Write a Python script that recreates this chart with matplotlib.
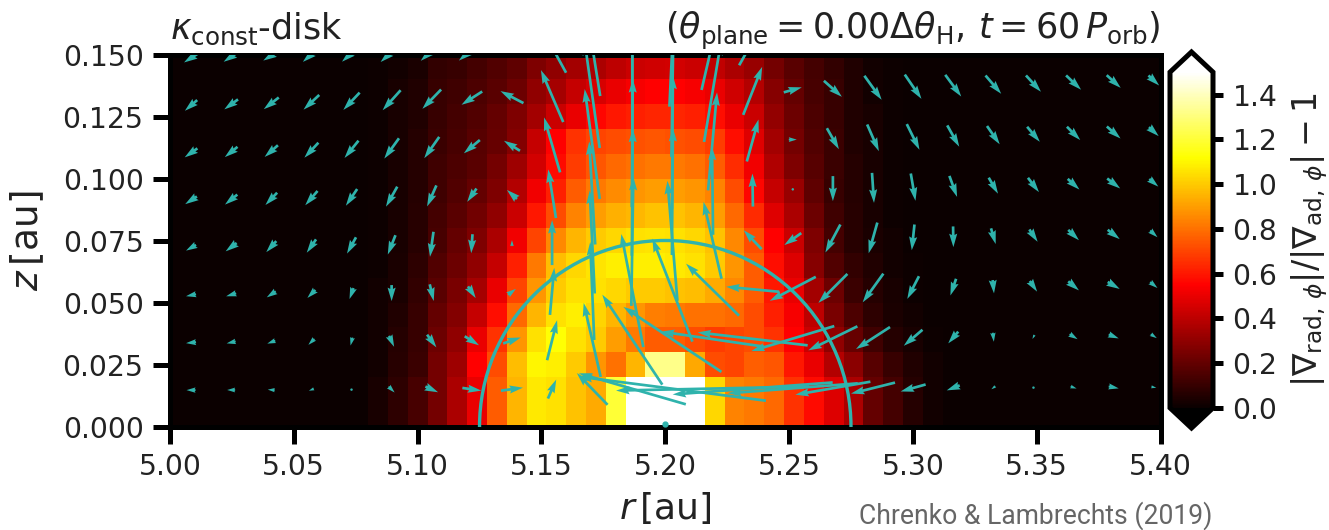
import matplotlib
matplotlib.use("Agg")
import matplotlib.pyplot as plt
from matplotlib.patches import Ellipse
import numpy as np

W, H = 1329, 530
TEAL = "#2fb3ac"

# heat map rows: first listed is the top row; columns c10..c38 (others are ~0)
row14 = [.01,.02,.04,.09,.10,.13,.16,.19,.26,.30,.34,.36,.40,.43,.44,.45,.43,.41,.36,.32,.24,.18,.13,.09,.05,.02,.01,0,0]
row13 = [.01,.03,.05,.10,.12,.15,.18,.22,.30,.35,.42,.46,.50,.53,.55,.55,.53,.50,.44,.38,.28,.20,.14,.10,.05,.02,.01,0,0]
row12 = [.01,.03,.05,.10,.13,.16,.20,.26,.34,.43,.50,.56,.60,.62,.63,.63,.62,.58,.50,.43,.31,.22,.15,.10,.05,.03,.01,0,0]
row11 = [.01,.03,.06,.11,.14,.17,.21,.27,.42,.55,.66,.70,.72,.73,.74,.73,.72,.68,.58,.48,.34,.24,.16,.11,.05,.03,.01,0,0]
row10 = [.01,.03,.06,.12,.15,.18,.24,.33,.45,.57,.68,.74,.78,.80,.82,.82,.80,.75,.65,.52,.37,.26,.17,.11,.06,.03,.01,0,0]
row9  = [.01,.03,.06,.12,.16,.20,.26,.38,.52,.62,.75,.82,.86,.88,.90,.90,.88,.84,.72,.56,.42,.32,.19,.10,.06,.03,.01,0,0]
row8  = [.01,.03,.07,.13,.18,.23,.30,.43,.60,.72,.84,.90,.94,.96,.98,.98,.95,.90,.78,.64,.48,.36,.22,.12,.07,.03,.01,0,0]
row7  = [.01,.03,.07,.14,.20,.26,.36,.52,.70,.85,.95,1.0,1.03,1.05,1.06,1.05,1.03,.98,.85,.72,.55,.43,.26,.13,.07,.04,.02,0,0]
row6  = [.01,.04,.08,.16,.22,.30,.42,.62,.82,.97,1.03,1.06,1.08,1.08,1.08,1.07,1.05,1.0,.88,.75,.58,.47,.28,.16,.09,.05,.02,.01,0]
row5  = [.02,.04,.09,.18,.25,.35,.50,.70,.88,1.0,1.05,1.05,1.03,1.0,1.0,.98,.97,.93,.85,.75,.60,.50,.34,.22,.11,.06,.03,.01,0]
row4  = [.02,.05,.10,.20,.27,.42,.58,.78,.95,1.05,1.08,1.02,.95,.88,.83,.82,.80,.80,.78,.72,.62,.53,.40,.25,.15,.08,.04,.02,0]
row3  = [.02,.06,.10,.22,.30,.50,.66,.88,1.05,1.12,1.05,1.0,.90,.82,.75,.75,.72,.68,.70,.72,.66,.55,.43,.30,.21,.12,.06,.03,.01]
row2  = [.02,.07,.11,.24,.33,.55,.72,.97,1.10,1.08,1.0,.88,.80,.95,1.32,1.32,.92,.72,.70,.76,.74,.60,.50,.38,.29,.17,.10,.05,.02]
row1  = [.03,.08,.14,.24,.36,.50,.75,.95,1.07,1.05,.98,.93,1.20,1.6,1.6,1.6,1.6,1.03,.84,.82,.78,.66,.57,.47,.36,.20,.13,.06,.02]
row0  = [.03,.08,.14,.24,.36,.50,.75,.95,1.07,1.05,.98,.93,1.20,1.6,1.6,1.6,1.6,1.03,.84,.82,.78,.66,.57,.47,.36,.20,.13,.06,.02]

# arrow components (screen length units), one pair of lists per row, top row first
u7 = [-14,-15,-16,-17,-19,-22,-22,-26,-28,-28,-16,0,6,22,27,20,20,18,16,16,15,15,15,14,11]
v7 = [-9,-10,-10,-15,-17,-20,-20,-22,10,51,100,128,126,95,48,8,-10,-24,-24,-22,-18,-16,-14,-13,-10]
u6 = [-12.3,-13.7,-15,-15.7,-16.3,-18,-18.7,-20.7,-23,-22.3,-15,0,2,17,19,18,18,17.3,16.7,16,15.7,15,15,14,10.7]
v6 = [-10.7,-10,-11.7,-14.7,-17.3,-20,-19.3,-13.3,12,52,106,128,128,100,48,5,-16,-24,-24.3,-21.7,-18.3,-16.3,-14.3,-12.7,-10]
u5 = [-12.7,-12.7,-13.3,-14,-14,-14.7,-15,-16,-16,-16,-15,1,1,9,11.7,8,12,11.7,12.7,12,12.7,12.7,13.3,13.7,9.7]
v5 = [-9,-10.3,-11.7,-15,-17.3,-20.3,-21.3,-13.3,10,55,110,128,133,98,42,0,-21,-26.7,-25.7,-21.3,-18.3,-15,-13.3,-12,-9]
u4 = [-11.7,-12.3,-11.7,-12.3,-11.3,-11.3,-9.3,-9.3,-10,-7.7,-6,1,1,-1,-0.5,0.5,0,2,4.7,7.7,9.3,11,11.7,13,9]
v4 = [-7.7,-10,-12.3,-14.3,-16.7,-20,-21,-13.3,9,48.7,103,127,127,88,33,0,-25,-30,-27.3,-21,-16,-14.3,-10.7,-10,-7.7]
u3 = [-10,-11,-10,-9.3,-9,-7.7,-3.5,-1.3,0,0,-5,2,-10,-18,-18,-17,-15,-8.7,-2.7,0.3,4.7,8.3,10.7,12,7.3]
v3 = [-5.7,-8.3,-11,-13.3,-16.3,-19.3,-25,-19,6,45,103,129,120,77,19,-12,-28,-30.7,-25.7,-20.7,-15.7,-12.3,-10.3,-9.3,-6.7]
u2 = [-10,-10,-9,-8,-4,0,4,7.7,8,4.3,-4,-22,-40,-53,-53,-46,-29,-20.7,-11.7,-5.7,1.3,7.3,10.7,12,7.3]
v2 = [-2,-3,-6,-8,-11,-16,-16.7,-11.7,6,47,98,113,103,52,5,-24,-29,-28.7,-22.7,-16.7,-13.3,-10.7,-9,-7,-6]
u1 = [-10,-9,-8,-6,-2,5,9.3,14.3,17.7,10,-17,-60,-98,-103,-110,-83,-49,-34,-18.7,-10,1,-2,8,10,6]
v1 = [-1,-2,-3,-6,-8,-11,-12.7,-9,6,40,74,90,65,15,13,-25,-24,-22,-16,-11.7,-9,-4,-5,-4,-4]
u0 = [-9,-8,-7,-5,0.5,6,12.7,19,22,8.3,-30.7,-107,-187,-193,-160,-130,-75,-44,-25,-13,-4,0.5,6,10,5]
v0 = [0,0,0.5,-2,-1,-6,-5.7,-2.7,3,19,31.7,31,24,-4,-12,-10,-13,-11,-7,-5,-3,1,-2,-2,-1]

arrow_r = [5.0085,5.0247,5.0409,5.0571,5.0733,5.0895,5.1057,5.1219,5.1381,5.1543,5.1705,5.1867,5.2029,
           5.2191,5.2353,5.2515,5.2677,5.2839,5.3001,5.3163,5.3325,5.3487,5.3649,5.3811,5.3973]
arrow_slope = [0.02967, 0.02585, 0.02203, 0.01821, 0.01439, 0.01057, 0.00675, 0.00293]

r_ticks = [5.00, 5.05, 5.10, 5.15, 5.20, 5.25, 5.30, 5.35, 5.40]
z_ticks = [0.000, 0.025, 0.050, 0.075, 0.100, 0.125, 0.150]
cb_ticks = [0.0, 0.2, 0.4, 0.6, 0.8, 1.0, 1.2, 1.4]

rows_top = [row14,row13,row12,row11,row10,row9,row8,row7,row6,row5,row4,row3,row2,row1,row0]
field = np.zeros((15, 50))
for k, rw in enumerate(rows_top):
    field[14 - k, 10:39] = rw
r_edges = np.linspace(5.0, 5.4, 51)
z_edges = np.linspace(0.0, 0.15, 16)

U = np.array([u7,u6,u5,u4,u3,u2,u1,u0], float)
V = np.array([v7,v6,v5,v4,v3,v2,v1,v0], float)
R, S = np.meshgrid(arrow_r, arrow_slope)
Z = R * S

INK = "#222222"
plt.rcParams["font.family"] = "DejaVu Sans"
plt.rcParams["mathtext.fontset"] = "dejavusans"
fig = plt.figure(figsize=(W/100, H/100), dpi=100)
L, Rt, T, B = 170, 1160.5, 54.5, 426.5
ax = fig.add_axes([L/W, 1-B/H, (Rt-L)/W, (B-T)/H])
cmap = plt.get_cmap("hot").copy()
cmap.set_under("black"); cmap.set_over("white")
mesh = ax.pcolormesh(r_edges, z_edges, field, cmap=cmap, vmin=0, vmax=1.5, rasterized=True)
ax.quiver(R, Z, U, V, angles="uv", scale_units="dots", scale=1, units="dots", width=2.7,
          pivot="mid", color=TEAL, zorder=3)
ax.add_patch(Ellipse((5.2, 0), 0.15, 0.15, fill=False, ec=TEAL, lw=2.4, zorder=4))
ax.plot([5.2], [0.001], "o", ms=3.5, color=TEAL, zorder=4)
ax.set_xlim(5.0, 5.4); ax.set_ylim(0, 0.15)
ax.set_xticks(r_ticks); ax.set_xticklabels([f"{t:.2f}" for t in r_ticks])
ax.set_yticks(z_ticks); ax.set_yticklabels([f"{t:.3f}" for t in z_ticks])
ax.tick_params(labelsize=20.3, width=3.6, length=12, pad=7, color="black", labelcolor=INK)
for s in ax.spines.values():
    s.set_linewidth(3.6)
ax.set_xlabel(r"$r\,[\mathrm{au}]$", fontsize=26, color=INK)
ax.xaxis.set_label_coords(0.5, -0.172)
ax.set_ylabel(r"$z\,[\mathrm{au}]$", fontsize=27, color=INK)
ax.yaxis.set_label_coords(-0.125, 0.5)
ax.text(0, 1.042, r"$\kappa_{\mathrm{const}}$-disk", transform=ax.transAxes, fontsize=25.2, ha="left", va="baseline", color=INK)
ax.text(1, 1.042, r"$(\theta_{\mathrm{plane}} = 0.00\Delta\theta_{\mathrm{H}},\, t = 60\,P_{\mathrm{orb}})$",
        transform=ax.transAxes, fontsize=25.2, ha="right", va="baseline", color=INK)

cax = fig.add_axes([1170/W, 1-428/H, 43/W, (428-52)/H])
cb = fig.colorbar(mesh, cax=cax, extend="both", extendfrac=0.06, ticks=cb_ticks)
cb.outline.set_linewidth(3.6)
cb.ax.tick_params(labelsize=20.3, width=3.6, length=7, pad=7, color="black", labelcolor=INK)
cb.set_label(r"$|\nabla_{\mathrm{rad},\,\phi}|/|\nabla_{\mathrm{ad},\,\phi}| - 1$", fontsize=24, color=INK)
cb.ax.yaxis.set_label_coords(2.78, 0.5)

fig.text(859/W, 1-524/H, "Chrenko & Lambrechts (2019)", family="Roboto", fontsize=19.1, color="#666666", ha="left", va="baseline")
fig.savefig("out.png", dpi=100)
